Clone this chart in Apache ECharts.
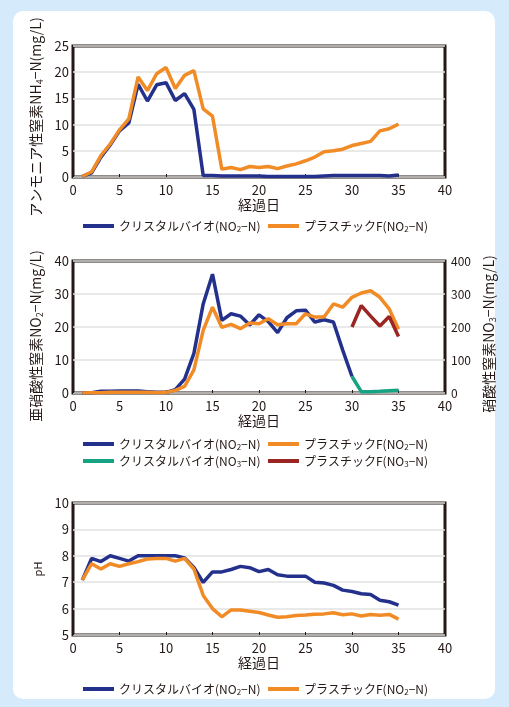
<!DOCTYPE html>
<html><head><meta charset="utf-8">
<script src="https://cdn.jsdelivr.net/npm/echarts@6/dist/echarts.min.js"></script>
<style>
html,body{margin:0;padding:0;width:509px;height:707px;background:#d5eafa;overflow:hidden;}
#panel{position:absolute;left:13px;top:11px;width:482px;height:688px;background:#fff;border-radius:10px;}
#c{position:absolute;left:0;top:0;width:509px;height:707px;}
</style></head>
<body><div id="panel"></div><div id="c"></div>
<script>
// ---- data ----
const days = [1,2,3,4,5,6,7,8,9,10,11,12,13,14,15,16,17,18,19,20,21,22,23,24,25,26,27,28,29,30,31,32,33,34,35];
const xTicks = [0,5,10,15,20,25,30,35,40];
// Chart 1: NH4-N (mg/L)
const nh4Crystal = [0.1,0.8,3.8,6.1,8.8,10.3,17.7,14.5,17.6,18.0,14.6,15.9,12.9,0.3,0.3,0.2,0.2,0.2,0.2,0.2,0.1,0.1,0.1,0.1,0.1,0.1,0.2,0.3,0.3,0.3,0.3,0.3,0.3,0.2,0.4];
const nh4Plastic = [0.1,1.0,4.1,6.3,9.0,11.1,19.1,16.5,19.7,20.9,16.9,19.4,20.3,13.0,11.6,1.5,1.8,1.4,2.0,1.8,2.0,1.6,2.1,2.5,3.1,3.8,4.8,5.0,5.3,6.0,6.4,6.8,8.8,9.2,10.1];
// Chart 2: NO2-N (left, mg/L) and NO3-N (right, mg/L)
const no2Days = days.slice(0,30);
const no2Crystal = [0,0.1,0.5,0.5,0.6,0.6,0.6,0.4,0.2,0.2,1.0,4.2,12.0,27.0,36.0,22.0,24.0,23.3,20.6,23.7,21.6,18.3,22.8,24.9,25.1,21.5,22.2,21.5,13.0,5.0];
const no2Plastic = [0,0.1,0.1,0.2,0.2,0.2,0.2,0.2,0.1,0.2,0.8,2.0,7.0,19.0,26.0,19.9,20.8,19.5,21.2,21.0,22.5,20.7,21.0,21.0,24.0,23.0,23.0,27.0,26.0,29.0,30.3,31.0,29.0,25.5,19.3];
const no3Days = [30,31,32,33,34,35];
const no3Crystal = [50,4,4,5,7,8];
const no3Plastic = [200,265,233,203,232,171];
// Chart 3: pH
const phCrystal = [7.08,7.9,7.78,8.0,7.9,7.8,8.0,8.0,8.0,8.0,8.0,7.92,7.56,6.99,7.39,7.39,7.48,7.6,7.55,7.4,7.48,7.28,7.23,7.23,7.23,7.0,6.97,6.88,6.7,6.65,6.56,6.53,6.32,6.26,6.13];
const phPlastic = [7.08,7.7,7.5,7.7,7.6,7.7,7.78,7.88,7.9,7.9,7.8,7.9,7.5,6.5,6.0,5.69,5.95,5.95,5.9,5.85,5.76,5.67,5.69,5.74,5.76,5.79,5.8,5.84,5.77,5.8,5.72,5.78,5.75,5.78,5.6];

const nameCrystalNO2 = 'クリスタルバイオ(NO2−N)';
const namePlasticNO2 = 'プラスチックF(NO2−N)';
const nameCrystalNO3 = 'クリスタルバイオ(NO3−N)';
const namePlasticNO3 = 'プラスチックF(NO3−N)';
const C_BLUE = '#24318c', C_ORANGE = '#f18b25', C_GREEN = '#16a383', C_RED = '#9a2522';

const FONT = '"Noto Sans CJK JP", "Noto Sans", sans-serif';
const TXT = '#231815';
const subRich = {sub:{fontSize:8, padding:[6,0,0,0], color:TXT, fontFamily:FONT}};
const subRichBig = {sub:{fontSize:9, padding:[7,0,0,0], color:TXT, fontFamily:FONT}};

function pairs(xs, ys){ return xs.map((x,i)=>[x, ys[i]]); }

const grids = [
  {left:73, top:46, width:372, height:131},
  {left:73, top:261, width:372, height:132},
  {left:73, top:503, width:372, height:132}
].map(g => Object.assign({show:true, borderColor:TXT, borderWidth:3, backgroundColor:'transparent'}, g));

function xAxis(gi){
  return {type:'value', gridIndex:gi, min:0, max:40, interval:5,
    name:'経過日', nameLocation:'middle', nameGap:19,
    nameTextStyle:{fontSize:14, color:TXT, fontFamily:FONT},
    axisLine:{show:false}, axisTick:{show:true, inside:true, length:3, lineStyle:{color:TXT, width:1}},
    splitLine:{show:false},
    axisLabel:{fontSize:13, color:TXT, fontFamily:FONT, margin:7}};
}
function yName(pad){ return {fontSize:14, color:TXT, fontFamily:FONT, rich:subRichBig, padding:pad}; }
function yAxis(gi, min, max, interval, name, opts){
  return Object.assign({type:'value', gridIndex:gi, min:min, max:max, interval:interval,
    name:name, nameLocation:'middle', nameRotate:90, nameGap:21,
    nameTextStyle:yName([0,0,0,0]),
    axisLine:{show:false}, axisTick:{show:false},
    splitLine:{show:true, lineStyle:{color:'#e2e2e2', width:1.5}},
    axisLabel:{fontSize:13, color:TXT, fontFamily:FONT, margin:4}}, opts||{});
}

function line(name, xi, yi, data, color){
  return {type:'line', name:name, xAxisIndex:xi, yAxisIndex:yi, data:data,
    showSymbol:false, symbol:'none', lineStyle:{color:color, width:3.5}, itemStyle:{color:color},
    animation:false, z:3};
}

function legend(name, left, top){
  return {data:[name], left:left, top:top, icon:'rect', itemWidth:31, itemHeight:4, padding:0,
    selectedMode:false,
    formatter: n => n.replace(/NO(\d)/, 'NO{sub|$1}'),
    textStyle:{fontSize:12, color:TXT, fontFamily:FONT, rich:subRich}};
}

const option = {
  animation:false,
  textStyle:{fontFamily:FONT},
  grid: grids,
  xAxis:[xAxis(0), xAxis(1), xAxis(2)],
  yAxis:[
    yAxis(0, 0, 25, 5, 'アンモニア性窒素NH{sub|4}−N(mg/L)', {nameGap:21, nameTextStyle:yName([0,11,0,0])}),
    yAxis(1, 0, 40, 10, '亜硝酸性窒素NO{sub|2}−N(mg/L)', {nameGap:24, nameTextStyle:yName([0,18,0,0])}),
    yAxis(1, 0, 400, 100, '硝酸性窒素NO{sub|3}−N(mg/L)', {position:'right', nameGap:31, splitLine:{show:false}, axisLabel:{fontSize:12, color:TXT, fontFamily:FONT, margin:6}, nameTextStyle:yName([0,14,0,0])}),
    yAxis(2, 5, 10, 1, 'pH', {nameGap:14, nameTextStyle:{fontSize:11, color:TXT, fontFamily:FONT}})
  ],
  legend:[
    legend(nameCrystalNO2, 83, 220),
    legend(namePlasticNO2, 268, 220),
    legend(nameCrystalNO2, 83, 438),
    legend(namePlasticNO2, 268, 438),
    legend(nameCrystalNO3, 83, 455),
    legend(namePlasticNO3, 268, 455),
    legend(nameCrystalNO2, 83, 683),
    legend(namePlasticNO2, 268, 683)
  ],
  series:[
    line(nameCrystalNO2, 0, 0, pairs(days, nh4Crystal), C_BLUE),
    line(namePlasticNO2, 0, 0, pairs(days, nh4Plastic), C_ORANGE),
    line(nameCrystalNO2, 1, 1, pairs(no2Days, no2Crystal), C_BLUE),
    line(namePlasticNO2, 1, 1, pairs(days, no2Plastic), C_ORANGE),
    line(nameCrystalNO3, 1, 2, pairs(no3Days, no3Crystal), C_GREEN),
    line(namePlasticNO3, 1, 2, pairs(no3Days, no3Plastic), C_RED),
    line(nameCrystalNO2, 2, 3, pairs(days, phCrystal), C_BLUE),
    line(namePlasticNO2, 2, 3, pairs(days, phPlastic), C_ORANGE)
  ]
};
const chart = echarts.init(document.getElementById('c'), null, {renderer:'canvas'});
chart.setOption(option);
</script>
</body></html>
